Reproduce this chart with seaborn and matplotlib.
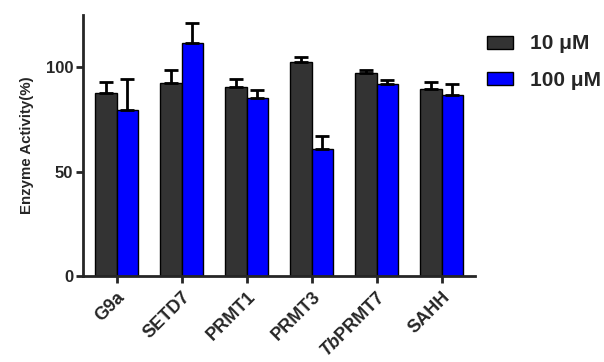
import matplotlib
matplotlib.use("Agg")
import matplotlib.pyplot as plt
import seaborn as sns
import pandas as pd
import numpy as np

categories = ["G9a", "SETD7", "PRMT1", "PRMT3", "TbPRMT7", "SAHH"]
tick_labels = ["G9a", "SETD7", "PRMT1", "PRMT3", r"$\mathit{Tb}$PRMT7", "SAHH"]
series = ["10 \u03bcM", "100 \u03bcM"]
vals_10 = [87.5, 92.5, 90.5, 102.7, 97.4, 89.6]
err_10 = [5.2, 6.0, 3.7, 2.0, 1.3, 3.3]
vals_100 = [79.5, 111.4, 85.3, 60.6, 92.1, 86.7]
err_100 = [15.0, 10.0, 3.6, 6.4, 2.0, 5.1]

sns.set_style("ticks")
plt.rcParams['font.family'] = ['Liberation Sans', 'DejaVu Sans']
plt.rcParams['font.weight'] = 'bold'
plt.rcParams['mathtext.fontset'] = 'custom'
plt.rcParams['mathtext.it'] = 'Liberation Sans:italic'
plt.rcParams['mathtext.rm'] = 'Liberation Sans:bold'

df = pd.DataFrame({
    "Enzyme": categories * 2,
    "Conc": [series[0]] * len(categories) + [series[1]] * len(categories),
    "Activity": vals_10 + vals_100,
})
errs = err_10 + err_100

fig = plt.figure(figsize=(6.04, 3.62), dpi=100)
ax = fig.add_axes([0.137, 0.2376, 0.649, 0.721])
palette = {series[0]: "#333333", series[1]: "#0000ff"}
sns.barplot(data=df, x="Enzyme", y="Activity", hue="Conc", order=categories,
            hue_order=series, palette=palette, width=0.65, errorbar=None,
            edgecolor="black", linewidth=1.0, saturation=1, ax=ax, legend=True)

bars = [p for c in ax.containers for p in c]
for p, e in zip(bars, errs):
    xc = p.get_x() + p.get_width() / 2
    h = p.get_height()
    ax.errorbar([xc], [h], yerr=[[0], [e]], fmt="none", ecolor="black",
                elinewidth=2, capsize=5, capthick=2, zorder=1)

ax.set_xlim(-0.52, 5.51)
ax.set_ylim(0, 125)
ax.set_yticks([0, 50, 100])
ax.set_xticks(range(len(categories)))
ax.set_xticklabels(tick_labels, rotation=45, ha="right", rotation_mode="anchor",
                   fontsize=13, fontweight="bold")
ax.tick_params(axis="y", labelsize=12, width=2, length=5, direction="out", pad=2)
ax.tick_params(axis="x", width=2, length=5, direction="out", pad=4)
for lab in ax.get_yticklabels():
    lab.set_fontweight("bold")
ax.set_xlabel("")
ax.set_ylabel("Enzyme Activity(%)", fontsize=10.8, fontweight="bold", labelpad=8)
for s in ["left", "bottom"]:
    ax.spines[s].set_linewidth(2)
sns.despine(ax=ax)

handles, labels = ax.get_legend_handles_labels()
ax.get_legend().remove()
fig.legend(handles, labels, loc="upper left", bbox_to_anchor=(0.806, 0.905),
           frameon=False, prop={"size": 15, "weight": "bold"}, borderpad=0,
           borderaxespad=0, handlelength=1.25, handleheight=0.58,
           labelspacing=0.85, handletextpad=0.8)

fig.savefig("out.png", dpi=100)
